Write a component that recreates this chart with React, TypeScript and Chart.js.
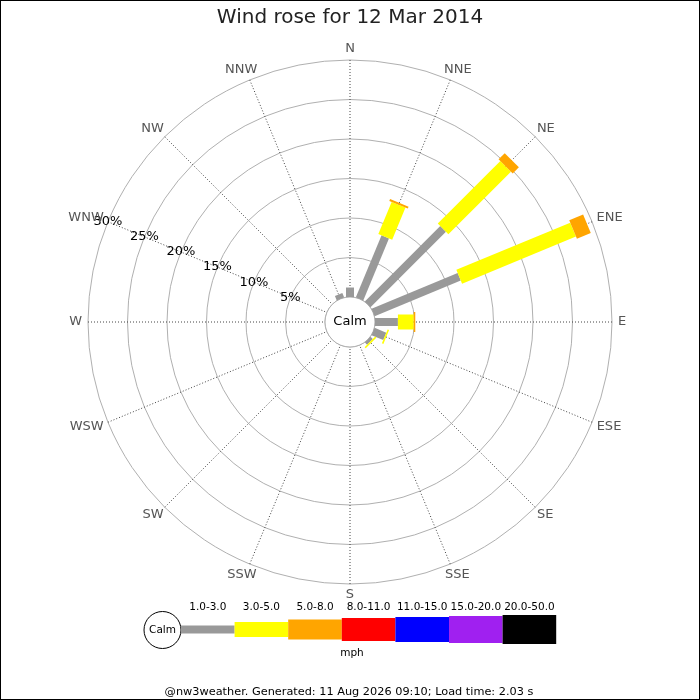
import React, { useEffect, useRef } from "react";
import { Chart, registerables } from "chart.js";

Chart.register(...registerables);

// ---------- data ----------
const TITLE = "Wind rose for 12 Mar 2014";
const DIRECTIONS = ["N", "NNE", "NE", "ENE", "E", "ESE", "SE", "SSE", "S", "SSW", "SW", "WSW", "W", "WNW", "NW", "NNW"];
const SPEED_CLASSES = ["1.0-3.0", "3.0-5.0", "5.0-8.0", "8.0-11.0", "11.0-15.0", "15.0-20.0", "20.0-50.0"];
const SPEED_UNIT = "mph";
const CALM_LABEL = "Calm";

// percentage of time per direction, for each speed class
const SPEED_1_3 = [1.2, 8.5, 13.5, 11.8, 2.9, 1.6, 0.4, 0, 0, 0, 0, 0, 0, 0, 0, 0.6];
const SPEED_3_5 = [0, 4.4, 11.2, 15.6, 2.0, 0.2, 0.2, 0, 0, 0, 0, 0, 0, 0, 0, 0];
const SPEED_5_8 = [0, 0.25, 1.1, 1.9, 0.2, 0, 0, 0, 0, 0, 0, 0, 0, 0, 0, 0];
const SPEED_8_11 = [0, 0, 0, 0, 0, 0, 0, 0, 0, 0, 0, 0, 0, 0, 0, 0];
const SPEED_11_15 = [0, 0, 0, 0, 0, 0, 0, 0, 0, 0, 0, 0, 0, 0, 0, 0];
const SPEED_15_20 = [0, 0, 0, 0, 0, 0, 0, 0, 0, 0, 0, 0, 0, 0, 0, 0];
const SPEED_20_50 = [0, 0, 0, 0, 0, 0, 0, 0, 0, 0, 0, 0, 0, 0, 0, 0];
const SERIES = [SPEED_1_3, SPEED_3_5, SPEED_5_8, SPEED_8_11, SPEED_11_15, SPEED_15_20, SPEED_20_50];

const RING_TICKS = [0, 5, 10, 15, 20, 25, 30];
const RING_MAX = 30;
const TICK_LABEL_DIRECTION = "WNW";
const FOOTER = "@nw3weather. Generated: 11 Aug 2026 09:10; Load time: 2.03 s";

// ---------- styles ----------
const CLASS_COLORS = ["#999999", "#ffff00", "#ffa500", "#ff0000", "#0000ff", "#a020f0", "#000000"];
const CLASS_WIDTHS = [8, 15, 20, 23, 25, 27, 29];
const FONT = "'DejaVu Sans', 'Liberation Sans', sans-serif";
const OUTER_RADIUS = 262;
const CALM_RADIUS = 25;
const SCALE_MIN = -(RING_MAX * CALM_RADIUS) / (OUTER_RADIUS - CALM_RADIUS);
const RING_COLOR = "#b0b0b0";

const roseOverlay = {
  id: "roseOverlay",
  beforeDraw(chart: any) {
    const ctx = chart.ctx;
    ctx.save();
    ctx.fillStyle = "#ffffff";
    ctx.fillRect(0, 0, chart.width, chart.height);
    ctx.restore();
  },
  afterDraw(chart: any) {
    const ctx = chart.ctx as CanvasRenderingContext2D;
    const scale = chart.scales.r;
    const cx = scale.xCenter;
    const cy = scale.yCenter;
    const calmR = scale.getDistanceFromCenterForValue(0);
    ctx.save();

    // calm circle
    ctx.beginPath();
    ctx.arc(cx, cy, calmR, 0, Math.PI * 2);
    ctx.fillStyle = "#ffffff";
    ctx.fill();
    ctx.lineWidth = 1;
    ctx.strokeStyle = RING_COLOR;
    ctx.stroke();

    // bars
    ctx.lineCap = "butt";
    DIRECTIONS.forEach((_, i) => {
      let acc = 0;
      SERIES.forEach((vals, c) => {
        const v = vals[i];
        if (!v) return;
        const r0 = scale.getDistanceFromCenterForValue(acc);
        const r1 = scale.getDistanceFromCenterForValue(acc + v);
        const p0 = scale.getPointPosition(i, r0);
        const p1 = scale.getPointPosition(i, r1);
        ctx.beginPath();
        ctx.moveTo(p0.x, p0.y);
        ctx.lineTo(p1.x, p1.y);
        ctx.lineWidth = CLASS_WIDTHS[c];
        ctx.strokeStyle = CLASS_COLORS[c];
        ctx.stroke();
        acc += v;
      });
    });

    // calm label
    ctx.fillStyle = "#000000";
    ctx.font = `13px ${FONT}`;
    ctx.textAlign = "center";
    ctx.textBaseline = "middle";
    ctx.fillText(CALM_LABEL, cx, cy);

    // ring labels along WNW
    const ti = DIRECTIONS.indexOf(TICK_LABEL_DIRECTION);
    RING_TICKS.forEach((t) => {
      if (t === 0) return;
      const p = scale.getPointPosition(ti, scale.getDistanceFromCenterForValue(t));
      ctx.fillText(`${t}%`, p.x, p.y);
    });

    // compass labels
    ctx.fillStyle = "#555555";
    ctx.font = `13px ${FONT}`;
    DIRECTIONS.forEach((lab, i) => {
      const p = scale.getPointPosition(i, scale.drawingArea + 6);
      const a = scale.getIndexAngle(i);
      const w = ctx.measureText(lab).width;
      const h = 10;
      ctx.fillText(lab, p.x + (Math.sin(a) * w) / 2, p.y - (Math.cos(a) * h) / 2);
    });

    // legend
    const legX0 = 181;
    const legStep = 53.6;
    const legY = 629.5;
    ctx.beginPath();
    ctx.arc(162.5, 630, 18.5, 0, Math.PI * 2);
    ctx.fillStyle = "#ffffff";
    ctx.fill();
    ctx.strokeStyle = "#000000";
    ctx.lineWidth = 1;
    ctx.stroke();
    ctx.fillStyle = "#000000";
    ctx.font = `10.5px ${FONT}`;
    ctx.fillText(CALM_LABEL, 162.5, 630);
    SPEED_CLASSES.forEach((lab, c) => {
      const x = legX0 + c * legStep;
      const h = CLASS_WIDTHS[c];
      ctx.fillStyle = CLASS_COLORS[c];
      ctx.fillRect(x, legY - h / 2, legStep, h);
      ctx.fillStyle = "#000000";
      ctx.fillText(lab, x + legStep / 2, 607);
    });
    ctx.fillText(SPEED_UNIT, 352, 653);

    // footer
    ctx.font = `11.3px ${FONT}`;
    ctx.fillText(FOOTER, 349, 692);

    // frame
    ctx.strokeStyle = "#000000";
    ctx.lineWidth = 1;
    ctx.strokeRect(0.5, 0.5, chart.width - 1, chart.height - 1);
    ctx.restore();
  },
};

export default function App() {
  const ref = useRef<HTMLCanvasElement | null>(null);
  useEffect(() => {
    if (!ref.current) return;
    const chart = new Chart(ref.current, {
      type: "radar",
      data: { labels: DIRECTIONS, datasets: [] },
      options: {
        animation: false,
        responsive: false,
        events: [],
        layout: { padding: { left: 88, right: 88, top: 0, bottom: 116 } },
        plugins: {
          legend: { display: false },
          tooltip: { enabled: false },
          title: {
            display: true,
            text: TITLE,
            color: "#222222",
            font: { family: FONT, size: 20, weight: "normal", lineHeight: 1.2 },
            padding: { top: 6, bottom: 30 },
          },
        },
        scales: {
          r: {
            min: SCALE_MIN,
            max: RING_MAX,
            afterBuildTicks: (s: any) => {
              s.ticks = RING_TICKS.map((v) => ({ value: v }));
            },
            ticks: { display: false, stepSize: 5 },
            grid: { color: RING_COLOR, lineWidth: 1, circular: true },
            angleLines: { color: "#444444", lineWidth: 1, borderDash: [1, 2] },
            pointLabels: { display: false },
          },
        },
      } as any,
      plugins: [roseOverlay],
    });
    return () => chart.destroy();
  }, []);
  return (
    <div style={{ position: "fixed", left: 0, top: 0, width: 700, height: 700, background: "#fff" }}>
      <canvas ref={ref} width={700} height={700} style={{ display: "block", width: 700, height: 700 }} />
    </div>
  );
}
